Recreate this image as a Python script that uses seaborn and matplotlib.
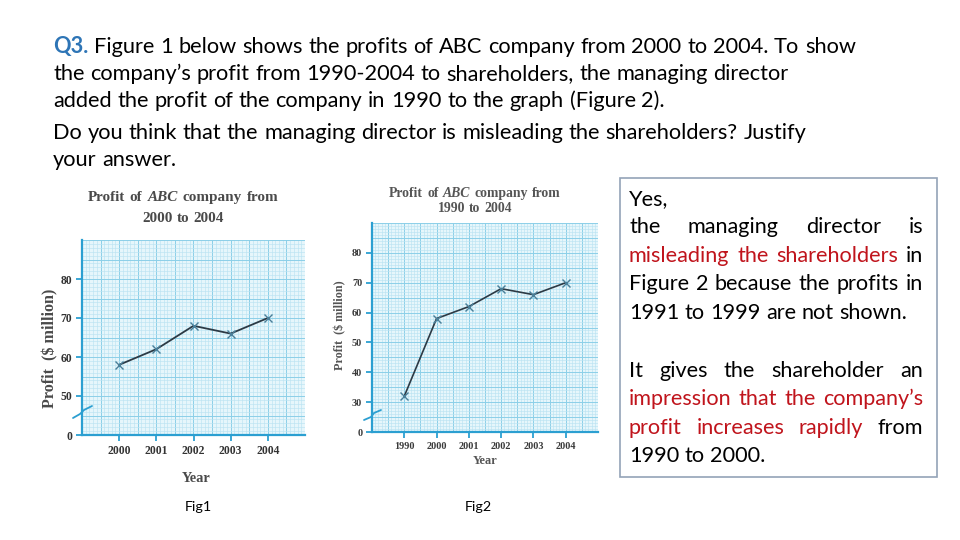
import matplotlib
matplotlib.use('Agg')
import matplotlib.pyplot as plt
import seaborn as sns
import pandas as pd
import numpy as np
from matplotlib.lines import Line2D
from matplotlib.patches import Rectangle

# ---------------- data ----------------
years1 = [2000, 2001, 2002, 2003, 2004]
profit1 = [58, 62, 68, 66, 70]
years2 = [1990, 2000, 2001, 2002, 2003, 2004]
profit2 = [32, 58, 62, 68, 66, 70]
yticks1 = [40, 50, 60, 70, 80]
yticklabels1 = ['0', '50', '60', '70', '80']
yticks2 = [20, 30, 40, 50, 60, 70, 80]
yticklabels2 = ['0', '30', '40', '50', '60', '70', '80']

heading = [
    "Q3. Figure 1 below shows the profits of ABC company from 2000 to 2004. To show",
    "the company\u2019s profit from 1990-2004 to shareholders, the managing director",
    "added the profit of the company in 1990 to the graph (Figure 2).",
    "Do you think that the managing director is misleading the shareholders? Justify",
    "your answer.",
]

# ---------------- setup ----------------
sns.set_theme(style='white')
W, H = 960, 540
fig = plt.figure(figsize=(9.6, 5.4), dpi=100)
fig.patch.set_facecolor('white')
renderer = fig.canvas.get_renderer()

SANS = ['Lato', 'DejaVu Sans']
SERIF = ['Liberation Serif', 'DejaVu Serif']


def fx(x):
    return x / W


def fy(y):
    return 1 - y / H


def measure(s, fs, **kw):
    t = fig.text(0, 0, s, fontsize=fs, **kw)
    w = t.get_window_extent(renderer).width
    t.remove()
    return w


def fit_fs(s, target, **kw):
    return 10 * target / measure(s, 10, **kw)


def space_w(fs, **kw):
    return measure('x x', fs, **kw) - measure('xx', fs, **kw)


def place_words(words, x, base, fs, family, ha='left', justify_to=None,
                gap_scale=1.0, **kw):
    """words: list of (word, color, extra-kwargs)"""
    widths = [measure(w, fs, family=family, **{**kw, **ex}) for w, c, ex in words]
    sp = space_w(fs, family=family, **kw) * gap_scale
    if justify_to is not None and len(words) > 1:
        gap = (justify_to - sum(widths)) / (len(words) - 1)
    else:
        gap = sp
    total = sum(widths) + gap * (len(words) - 1)
    x0 = x - total / 2 if ha == 'center' else x
    for (w, c, ex), wd in zip(words, widths):
        fig.text(fx(x0), fy(base), w, fontsize=fs, family=family, color=c,
                 ha='left', va='baseline', **{**kw, **ex})
        x0 += wd + gap


# ---------------- heading text ----------------
hfs = fit_fs(heading[0], 802, family=SANS)
hbases = [53, 80, 107, 139, 166]
for i, (line, b) in enumerate(zip(heading, hbases)):
    words = []
    for j, w in enumerate(line.split(' ')):
        if i == 0 and j == 0:
            words.append((w, '#2e75b6', {'fontweight': 'bold'}))
        else:
            words.append((w, 'black', {}))
    place_words(words, 53, b, hfs, SANS)

# ---------------- graph helper ----------------
SPINE = '#2b9fd1'


def style_graph(ax, xlim, ylim, xminor, yminor):
    ax.set_facecolor('#e6f6fb')
    ax.set_xlim(xlim)
    ax.set_ylim(ylim)
    xs = np.arange(xlim[0], xlim[1] + 1e-9, xminor)
    ys = np.arange(ylim[0], ylim[1] + 1e-9, yminor)
    for k, x in enumerate(xs):
        major = (k % 5 == 0)
        ax.axvline(x, color='#8ccfe8' if major else '#bbe3f2',
                   lw=0.7 if major else 0.45, zorder=0)
    for k, y in enumerate(ys):
        major = (k % 5 == 0)
        ax.axhline(y, color='#8ccfe8' if major else '#bbe3f2',
                   lw=0.7 if major else 0.45, zorder=0)
    for s in ['top', 'right']:
        ax.spines[s].set_visible(False)
    for s in ['left', 'bottom']:
        ax.spines[s].set_color(SPINE)
        ax.spines[s].set_linewidth(1.6)
        ax.spines[s].set_zorder(3)
    ax.tick_params(direction='out', length=4, width=1.3, color=SPINE,
                   left=True, bottom=True, pad=3)
    ax.set_xlabel('')
    ax.set_ylabel('')


# ---------------- Figure 1 ----------------
ax1 = fig.add_axes([fx(82), fy(435), fx(305 - 82), (435 - 240) / H])
df1 = pd.DataFrame({'Year': years1, 'Profit': profit1})
sns.lineplot(data=df1, x='Year', y='Profit', ax=ax1, color='#2c3a45', lw=1.3,
             marker='x', markersize=6, markeredgecolor='#4a7f99',
             markeredgewidth=1.0, legend=False, zorder=4)
style_graph(ax1, (1999, 2005), (40, 90), 0.1, 1)
ax1.set_xticks(years1)
ax1.set_xticklabels([str(y) for y in years1])
ax1.set_yticks(yticks1)
ax1.set_yticklabels(yticklabels1)
for lab in ax1.get_xticklabels() + ax1.get_yticklabels():
    lab.set_fontfamily(SERIF)
    lab.set_fontweight('bold')
    lab.set_fontsize(8.4)
    lab.set_color('#333333')

# ---------------- Figure 2 ----------------
pos2 = list(range(len(years2)))
ax2 = fig.add_axes([fx(372), fy(432), fx(598 - 372), (432 - 223) / H])
df2 = pd.DataFrame({'pos': pos2, 'Profit': profit2})
sns.lineplot(data=df2, x='pos', y='Profit', ax=ax2, color='#2c3a45', lw=1.2,
             marker='x', markersize=5.5, markeredgecolor='#4a7f99',
             markeredgewidth=1.0, legend=False, zorder=4)
style_graph(ax2, (-1, 6), (20, 90), 0.1, 1)
ax2.set_xticks(pos2)
ax2.set_xticklabels([str(y) for y in years2])
ax2.set_yticks(yticks2)
ax2.set_yticklabels(yticklabels2)
for lab in ax2.get_xticklabels() + ax2.get_yticklabels():
    lab.set_fontfamily(SERIF)
    lab.set_fontweight('bold')
    lab.set_fontsize(7.4)
    lab.set_color('#3a3a3a')

# axis-break zigzags
for xs_, ys_ in [([73, 80, 84, 92], [418, 414, 410, 406]),
                 ([364, 371, 374, 381], [420, 417, 413, 410])]:
    fig.add_artist(Line2D([fx(v) for v in xs_], [fy(v) for v in ys_],
                          color=SPINE, lw=1.3))

# ---------------- graph titles & labels ----------------
TCOL1 = '#4a4a4a'
TCOL2 = '#555555'
t1 = "Profit of ABC company from"
tfs1 = fit_fs(t1, 188, family=SERIF, fontweight='bold')
place_words([('Profit', TCOL1, {}), ('of', TCOL1, {}),
             ('ABC', TCOL1, {'fontstyle': 'italic'}), ('company', TCOL1, {}),
             ('from', TCOL1, {})], 183, 201, tfs1, SERIF, ha='center',
            gap_scale=1.3, fontweight='bold')
place_words([('2000', TCOL1, {}), ('to', TCOL1, {}), ('2004', TCOL1, {})],
            183, 222, tfs1, SERIF, ha='center', fontweight='bold')

tfs2 = fit_fs(t1, 170, family=SERIF, fontweight='bold')
place_words([('Profit', TCOL2, {}), ('of', TCOL2, {}),
             ('ABC', TCOL2, {'fontstyle': 'italic'}), ('company', TCOL2, {}),
             ('from', TCOL2, {})], 475, 197, tfs2, SERIF, ha='center',
            gap_scale=1.2, fontweight='bold')
place_words([('1990', TCOL2, {}), ('to', TCOL2, {}), ('2004', TCOL2, {})],
            475, 212, tfs2, SERIF, ha='center', fontweight='bold')

ylab = "Profit  ($ million)"
yfs1 = fit_fs(ylab, 120, family=SERIF, fontweight='bold')
fig.text(fx(50), fy(348), ylab, rotation=90, ha='center', va='center',
         fontsize=yfs1, family=SERIF, fontweight='bold', color=TCOL1)
yfs2 = fit_fs(ylab, 90, family=SERIF, fontweight='bold')
fig.text(fx(340), fy(325), ylab, rotation=90, ha='center', va='center',
         fontsize=yfs2, family=SERIF, fontweight='bold', color=TCOL2)

xfs1 = fit_fs('Year', 29, family=SERIF, fontweight='bold')
fig.text(fx(196), fy(478), 'Year', ha='center', va='center', fontsize=xfs1,
         family=SERIF, fontweight='bold', color=TCOL1)
xfs2 = fit_fs('Year', 25, family=SERIF, fontweight='bold')
fig.text(fx(485), fy(461), 'Year', ha='center', va='center', fontsize=xfs2,
         family=SERIF, fontweight='bold', color=TCOL2)

# captions
cfs = fit_fs('Fig1', 27, family=SANS)
fig.text(fx(198), fy(511), 'Fig1', ha='center', va='baseline', fontsize=cfs,
         family=SANS, color='black')
fig.text(fx(478), fy(511), 'Fig2', ha='center', va='baseline', fontsize=cfs,
         family=SANS, color='black')

# ---------------- answer box ----------------
fig.add_artist(Rectangle((fx(620), fy(477)), fx(937 - 620), (477 - 178) / H,
                         fill=False, edgecolor='#93a3b8', lw=1.2))
RED = '#c0141c'
bfs = fit_fs("1991 to 1999 are not shown.", 279, family=SANS)
box_lines = [
    ([("Yes,", 'black')], False, 205),
    ([("the", 'black'), ("managing", 'black'), ("director", 'black'), ("is", 'black')], True, 233),
    ([("misleading", RED), ("the", RED), ("shareholders", RED), ("in", 'black')], True, 262),
    ([("Figure", 'black'), ("2", 'black'), ("because", 'black'), ("the", 'black'),
      ("profits", 'black'), ("in", 'black')], True, 290),
    ([("1991", 'black'), ("to", 'black'), ("1999", 'black'), ("are", 'black'),
      ("not", 'black'), ("shown.", 'black')], False, 319),
    ([("It", 'black'), ("gives", 'black'), ("the", 'black'), ("shareholder", 'black'),
      ("an", 'black')], True, 377),
    ([("impression", RED), ("that", RED), ("the", RED), ("company\u2019s", RED)], True, 405),
    ([("profit", RED), ("increases", RED), ("rapidly", RED), ("from", 'black')], True, 434),
    ([("1990", 'black'), ("to", 'black'), ("2000.", 'black')], False, 462),
]
for words, just, base in box_lines:
    place_words([(w, c, {}) for w, c in words], 629, base, bfs, SANS,
                justify_to=(923 - 629) if just else None)

fig.savefig('out.png', dpi=100)
